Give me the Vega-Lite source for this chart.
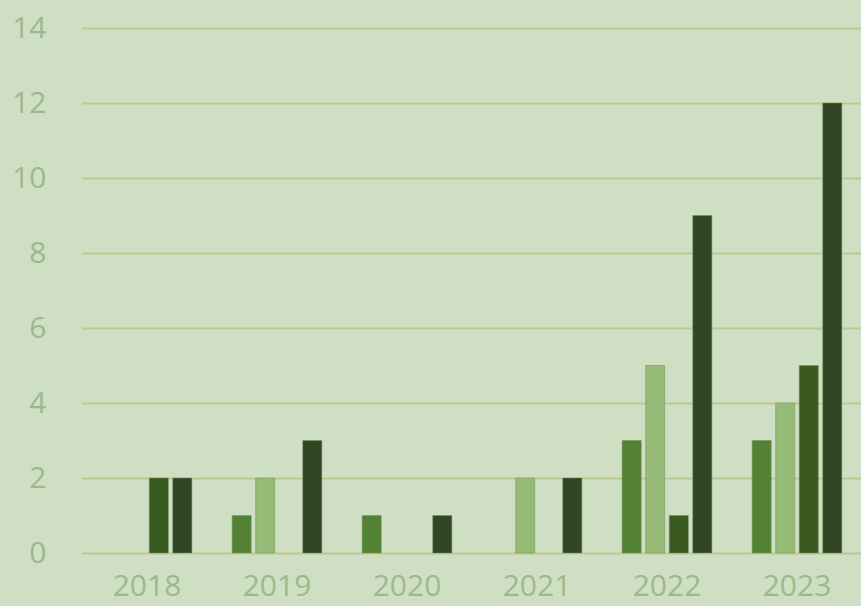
{
  "$schema": "https://vega.github.io/schema/vega-lite/v6.json",
  "autosize": "none",
  "padding": {"left": 82, "top": 28, "right": 0, "bottom": 53},
  "width": 780,
  "height": 525,
  "background": "#cedfc3",
  "config": {
    "view": {"stroke": null, "fill": "#cedfc3"},
    "font": "Open Sans"
  },
  "data": {
    "values": [
      {"year": "2018", "series": "A", "value": 0},
      {"year": "2018", "series": "B", "value": 0},
      {"year": "2018", "series": "C", "value": 2},
      {"year": "2018", "series": "D", "value": 2},
      {"year": "2019", "series": "A", "value": 1},
      {"year": "2019", "series": "B", "value": 2},
      {"year": "2019", "series": "C", "value": 0},
      {"year": "2019", "series": "D", "value": 3},
      {"year": "2020", "series": "A", "value": 1},
      {"year": "2020", "series": "B", "value": 0},
      {"year": "2020", "series": "C", "value": 0},
      {"year": "2020", "series": "D", "value": 1},
      {"year": "2021", "series": "A", "value": 0},
      {"year": "2021", "series": "B", "value": 2},
      {"year": "2021", "series": "C", "value": 0},
      {"year": "2021", "series": "D", "value": 2},
      {"year": "2022", "series": "A", "value": 3},
      {"year": "2022", "series": "B", "value": 5},
      {"year": "2022", "series": "C", "value": 1},
      {"year": "2022", "series": "D", "value": 9},
      {"year": "2023", "series": "A", "value": 3},
      {"year": "2023", "series": "B", "value": 4},
      {"year": "2023", "series": "C", "value": 5},
      {"year": "2023", "series": "D", "value": 12}
    ]
  },
  "mark": {"type": "bar", "stroke": "#6f8f5c", "strokeWidth": 1, "strokeOpacity": 0.5},
  "encoding": {
    "x": {
      "field": "year", "type": "nominal",
      "scale": {"paddingInner": 0.31, "paddingOuter": 0.155},
      "axis": {
        "title": null, "labelAngle": 0, "domain": false, "ticks": false,
        "labelFontSize": 30, "labelColor": "#9db88d", "labelPadding": 18, "grid": false
      }
    },
    "xOffset": {
      "field": "series", "type": "nominal",
      "scale": {"paddingInner": 0.19, "paddingOuter": 0}
    },
    "y": {
      "field": "value", "type": "quantitative",
      "scale": {"domain": [0, 14], "nice": false},
      "axis": {
        "title": null, "values": [0, 2, 4, 6, 8, 10, 12, 14],
        "domain": false, "ticks": false,
        "labelFontSize": 30, "labelColor": "#9db88d", "labelPadding": 36,
        "gridColor": "#bfc78f", "gridWidth": 2
      }
    },
    "color": {
      "field": "series", "type": "nominal", "legend": null,
      "scale": {"domain": ["A", "B", "C", "D"], "range": ["#548235", "#95bb77", "#3a5a22", "#314623"]}
    },
    "strokeOpacity": {
      "condition": {"test": "datum.value == 0", "value": 0},
      "value": 0.5
    }
  }
}
